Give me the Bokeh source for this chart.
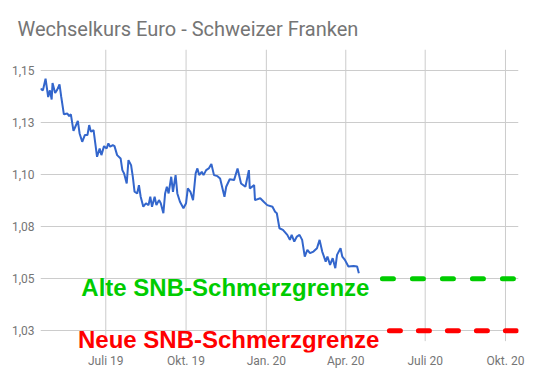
import pandas as pd
from bokeh.plotting import figure
from bokeh.models import Range1d, FixedTicker, ColumnDataSource, Label, Title
from bokeh.embed import file_html
from bokeh.resources import INLINE

# ---- data ----
dates = [
    "2019-04-17", "2019-04-20", "2019-04-23", "2019-04-26", "2019-04-28", "2019-04-30",
    "2019-05-01", "2019-05-04", "2019-05-06", "2019-05-09", "2019-05-11", "2019-05-14",
    "2019-05-18", "2019-05-20", "2019-05-22", "2019-05-25", "2019-05-27", "2019-05-30",
    "2019-06-01", "2019-06-04", "2019-06-07", "2019-06-10", "2019-06-12", "2019-06-14",
    "2019-06-17", "2019-06-19", "2019-06-21", "2019-06-24", "2019-06-26", "2019-06-29",
    "2019-07-02", "2019-07-04", "2019-07-06", "2019-07-09", "2019-07-11", "2019-07-14",
    "2019-07-18", "2019-07-20", "2019-07-22", "2019-07-25", "2019-07-27", "2019-07-30",
    "2019-08-01", "2019-08-03", "2019-08-06", "2019-08-08", "2019-08-10", "2019-08-13",
    "2019-08-16", "2019-08-19", "2019-08-21", "2019-08-23", "2019-08-26", "2019-08-28",
    "2019-08-31", "2019-09-02", "2019-09-05", "2019-09-07", "2019-09-09", "2019-09-11",
    "2019-09-14", "2019-09-16", "2019-09-19", "2019-09-21", "2019-09-24", "2019-09-28",
    "2019-10-01", "2019-10-03", "2019-10-06", "2019-10-09", "2019-10-12", "2019-10-14",
    "2019-10-16", "2019-10-19", "2019-10-21", "2019-10-24", "2019-10-27", "2019-10-30",
    "2019-11-02", "2019-11-06", "2019-11-09", "2019-11-14", "2019-11-16", "2019-11-20",
    "2019-11-25", "2019-11-29", "2019-12-03", "2019-12-08", "2019-12-12", "2019-12-13",
    "2019-12-18", "2019-12-19", "2019-12-25", "2019-12-29", "2020-01-02", "2020-01-08",
    "2020-01-11", "2020-01-13", "2020-01-16", "2020-01-20", "2020-01-25", "2020-01-28",
    "2020-01-30", "2020-02-02", "2020-02-05", "2020-02-08", "2020-02-11", "2020-02-14",
    "2020-02-17", "2020-02-20", "2020-02-24", "2020-02-28", "2020-03-02", "2020-03-05",
    "2020-03-09", "2020-03-11", "2020-03-14", "2020-03-17", "2020-03-20", "2020-03-22",
    "2020-03-26", "2020-03-28", "2020-03-31", "2020-04-04", "2020-04-10", "2020-04-14",
    "2020-04-16",
]
eur_chf = [
    1.1412, 1.1404, 1.1460, 1.1372, 1.1404, 1.1360, 1.1439, 1.1391, 1.1404, 1.1433,
    1.1372, 1.1289, 1.1293, 1.1280, 1.1289, 1.1209, 1.1228, 1.1257, 1.1197, 1.1157,
    1.1189, 1.1189, 1.1237, 1.1205, 1.1213, 1.1149, 1.1085, 1.1125, 1.1093, 1.1136,
    1.1125, 1.1149, 1.1133, 1.1141, 1.1136, 1.1093, 1.1077, 1.1021, 1.1005, 1.0957,
    1.1069, 1.1045, 1.0989, 1.0917, 1.0909, 1.0949, 1.0893, 1.0845, 1.0862, 1.0853,
    1.0893, 1.0845, 1.0893, 1.0853, 1.0877, 1.0862, 1.0814, 1.0909, 1.0941, 1.0909,
    1.0989, 1.0917, 1.0997, 1.0909, 1.0869, 1.0838, 1.0862, 1.0933, 1.0917, 1.0877,
    1.1005, 1.1029, 1.0997, 1.1013, 1.0997, 1.1021, 1.1029, 1.1050, 1.0997, 1.0992,
    1.0981, 1.0893, 1.0941, 1.0977, 1.0973, 1.1029, 1.0957, 1.0941, 1.1021, 1.0933,
    1.0949, 1.0877, 1.0886, 1.0869, 1.0853, 1.0845, 1.0821, 1.0814, 1.0742, 1.0734,
    1.0710, 1.0686, 1.0710, 1.0678, 1.0702, 1.0710, 1.0686, 1.0606, 1.0638, 1.0622,
    1.0630, 1.0646, 1.0686, 1.0630, 1.0582, 1.0606, 1.0566, 1.0598, 1.0550, 1.0614,
    1.0646, 1.0606, 1.0590, 1.0558, 1.0561, 1.0558, 1.0526,
]

limit_names = ["Alte SNB-Schmerzgrenze", "Neue SNB-Schmerzgrenze"]
limit_values = [1.05, 1.025]
limit_starts = ["2020-05-13", "2020-05-21"]
limit_ends = ["2020-10-25", "2020-10-25"]
limit_colors = ["#00cc00", "#ff0000"]

y_ticks = [1.025, 1.05, 1.075, 1.10, 1.125, 1.15]
y_labels = ["1,03", "1,05", "1,08", "1,10", "1,13", "1,15"]
x_tick_dates = ["2019-07-01", "2019-10-01", "2020-01-01", "2020-04-01", "2020-07-01", "2020-10-01"]
x_labels = ["Juli 19", "Okt. 19", "Jan. 20", "Apr. 20", "Juli 20", "Okt. 20"]
grid_bottom, grid_top = 1.02, 1.16
title_text = "Wechselkurs Euro - Schweizer Franken"

# ---- figure ----
p = figure(width=543, height=371, x_axis_type="datetime", title=None,
           output_backend="svg", toolbar_location=None,
           min_border_left=40, min_border_right=25,
           min_border_top=0, min_border_bottom=19)
p.outline_line_color = None
p.background_fill_color = "white"
p.border_fill_color = "white"

p.x_range = Range1d(pd.Timestamp("2019-04-17 05:00"), pd.Timestamp("2020-10-15 22:00"))
p.y_range = Range1d(1.01454, 1.16)

main_title = Title(text=title_text, text_font="Roboto", text_font_style="normal",
                   text_font_size="20px", text_color="#757575", align="left",
                   offset=-23, standoff=18)
p.add_layout(main_title, "above")
# small blank band above the title
p.add_layout(Title(text=" ", text_font_size="3px", standoff=0), "above")


def ms(s):
    return int(pd.Timestamp(s).value // 10**6)


x_ticks = [ms(d) for d in x_tick_dates]
p.xaxis.ticker = FixedTicker(ticks=x_ticks)
p.xaxis.major_label_overrides = {t: l for t, l in zip(x_ticks, x_labels)}
p.yaxis.ticker = FixedTicker(ticks=y_ticks)
p.yaxis.major_label_overrides = {t: l for t, l in zip(y_ticks, y_labels)}

for ax in (p.xaxis, p.yaxis):
    ax.axis_line_color = None
    ax.major_tick_line_color = None
    ax.minor_tick_line_color = None
    ax.major_tick_out = 0
    ax.major_tick_in = 0
    ax.minor_tick_out = 0
    ax.major_label_text_font = "Roboto"
    ax.major_label_text_font_size = "12px"
    ax.major_label_text_color = "#757575"
p.xaxis.major_label_standoff = 1
p.yaxis.major_label_standoff = 6

p.xgrid.grid_line_color = None
p.ygrid.grid_line_color = "#cccccc"

# vertical grid lines drawn at the tick dates, stopping at the bottom of the value range
p.segment(x0=pd.to_datetime(x_tick_dates), y0=[grid_bottom] * len(x_tick_dates),
          x1=pd.to_datetime(x_tick_dates), y1=[grid_top] * len(x_tick_dates),
          line_color="#cccccc", line_width=1)

# main series
src = ColumnDataSource(dict(x=pd.to_datetime(dates), y=eur_chf))
p.line("x", "y", source=src, line_color="#3366cc", line_width=2)

# limit lines and labels
dashes = ["11 19", "11 18"]
for name, val, s, e, col, dash, xo in zip(limit_names, limit_values, limit_starts,
                                          limit_ends, limit_colors, dashes, [-13, -10]):
    p.line(x=[pd.Timestamp(s), pd.Timestamp(e)], y=[val, val], line_color=col,
           line_width=5, line_dash=dash, line_cap="round")
    p.add_layout(Label(x=ms(s), y=val, text=name, text_color=col,
                       text_font="Liberation Sans", text_font_style="bold",
                       text_font_size="24px", text_align="right",
                       text_baseline="alphabetic", x_offset=xo, y_offset=-9))

open("out.html", "w").write(file_html(p, INLINE))
